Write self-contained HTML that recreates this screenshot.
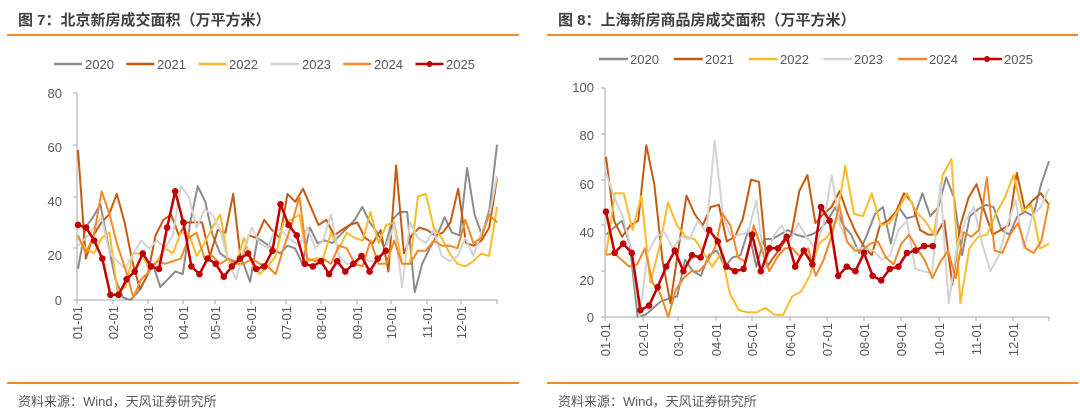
<!DOCTYPE html>
<html><head><meta charset="utf-8">
<style>
body{margin:0;background:#fff;width:1080px;height:414px;overflow:hidden;font-family:"Liberation Sans","Noto Sans CJK SC",sans-serif;}
svg text{font-family:"Liberation Sans","Noto Sans CJK SC",sans-serif;}
</style></head><body>
<svg id="s" width="1080" height="414" xmlns="http://www.w3.org/2000/svg">
<g font-weight="bold" font-size="15" fill="#404040">
<text x="18" y="25">图 7：北京新房成交面积（万平方米）</text>
<text x="558" y="25">图 8：上海新房商品房成交面积（万平方米）</text>
</g>
<line x1="7" y1="35" x2="519" y2="35" stroke="#f08a2c" stroke-width="2"/>
<line x1="547" y1="35" x2="1078" y2="35" stroke="#f08a2c" stroke-width="2"/>
<line x1="7" y1="383" x2="519" y2="383" stroke="#f08a2c" stroke-width="2"/>
<line x1="547" y1="383" x2="1078" y2="383" stroke="#f08a2c" stroke-width="2"/>
<g font-size="13" fill="#595959">
<text x="18" y="406">资料来源：Wind，天风证券研究所</text>
<text x="558" y="406">资料来源：Wind，天风证券研究所</text>
</g>
<g font-size="13" fill="#595959">
<text x="85" y="69">2020</text><text x="157" y="69">2021</text><text x="229" y="69">2022</text><text x="302" y="69">2023</text><text x="374" y="69">2024</text><text x="446" y="69">2025</text>
<text x="630" y="64">2020</text><text x="705" y="64">2021</text><text x="780" y="64">2022</text><text x="854" y="64">2023</text><text x="929" y="64">2024</text><text x="1004" y="64">2025</text>
</g>
<g font-size="13" fill="#595959" text-anchor="end">
<text x="62" y="98">80</text><text x="62" y="152">60</text><text x="62" y="206">40</text><text x="62" y="260">20</text><text x="62" y="305">0</text>
<text x="594" y="92">100</text><text x="594" y="140">80</text><text x="594" y="189">60</text><text x="594" y="237">40</text><text x="594" y="285">20</text><text x="594" y="322">0</text>
</g>
<g font-size="13" fill="#595959" text-anchor="end">
<text transform="translate(82,306) rotate(-90)">01-01</text>
<text transform="translate(118,306) rotate(-90)">02-01</text>
<text transform="translate(153,306) rotate(-90)">03-01</text>
<text transform="translate(188,306) rotate(-90)">04-01</text>
<text transform="translate(220,306) rotate(-90)">05-01</text>
<text transform="translate(256,306) rotate(-90)">06-01</text>
<text transform="translate(291,306) rotate(-90)">07-01</text>
<text transform="translate(326,306) rotate(-90)">08-01</text>
<text transform="translate(362,306) rotate(-90)">09-01</text>
<text transform="translate(396,306) rotate(-90)">10-01</text>
<text transform="translate(432,306) rotate(-90)">11-01</text>
<text transform="translate(466,306) rotate(-90)">12-01</text>
<text transform="translate(610,323) rotate(-90)">01-01</text>
<text transform="translate(648,323) rotate(-90)">02-01</text>
<text transform="translate(683,323) rotate(-90)">03-01</text>
<text transform="translate(721,323) rotate(-90)">04-01</text>
<text transform="translate(757,323) rotate(-90)">05-01</text>
<text transform="translate(795,323) rotate(-90)">06-01</text>
<text transform="translate(832,323) rotate(-90)">07-01</text>
<text transform="translate(869,323) rotate(-90)">08-01</text>
<text transform="translate(906,323) rotate(-90)">09-01</text>
<text transform="translate(944,323) rotate(-90)">10-01</text>
<text transform="translate(981,323) rotate(-90)">11-01</text>
<text transform="translate(1018,323) rotate(-90)">12-01</text>
</g>
</svg>
<script>
var s=document.getElementById('s'),NS='http://www.w3.org/2000/svg';
function el(t,a){var e=document.createElementNS(NS,t);for(var k in a)e.setAttribute(k,a[k]);s.appendChild(e);return e;}
var C={'2020':'#8c8c8c','2021':'#c55a11','2022':'#fbbc2c','2023':'#d3d3d3','2024':'#f28a2a','2025':'#c00000'};
// legends
var yrs=['2020','2021','2022','2023','2024','2025'];
yrs.forEach(function(y,i){
 var x=54+i*72.3;el('line',{x1:x,y1:64,x2:x+28,y2:64,stroke:C[y],'stroke-width':2.5});
 if(y=='2025')el('circle',{cx:x+14,cy:64,r:3,fill:C[y]});
 var x2=599+i*74.8;el('line',{x1:x2,y1:59,x2:x2+29,y2:59,stroke:C[y],'stroke-width':2.5});
 if(y=='2025')el('circle',{cx:x2+14,cy:59,r:3,fill:C[y]});
});
function axes(x0,x1,y0,yt,ticks,n,hy){
 el('line',{x1:x0,y1:yt,x2:x0,y2:y0,stroke:'#a6a6a6','stroke-width':1});
 el('line',{x1:x0,y1:y0,x2:x1,y2:y0,stroke:'#a6a6a6','stroke-width':1});
 hy.forEach(function(y){el('line',{x1:x0-4,y1:y,x2:x0,y2:y,stroke:'#a6a6a6'});});
 ticks.concat([x1]).forEach(function(x){el('line',{x1:x,y1:y0,x2:x,y2:y0+4,stroke:'#a6a6a6'});});
}
axes(77,497,300,93,[77,113,148,183,215,251,286,321,357,391,427,461],0,[93,145,197,248,300]);
axes(605,1049,317,88,[605,643,678,716,752,790,827,864,901,939,976,1013],0,[88,134,180,225,271,317]);
function series(d,x0,step,y0,sc,col,w,dots){
 var p=d.map(function(v,i){return (x0+i*step).toFixed(1)+','+(y0-v*sc).toFixed(1);}).join(' ');
 el('polyline',{points:p,fill:'none',stroke:col,'stroke-width':w,'stroke-linejoin':'round'});
 if(dots)d.forEach(function(v,i){el('circle',{cx:x0+i*step,cy:y0-v*sc,r:3.3,fill:col});});
}
var L={
'2020':[12,28,32,37,22,8,1,0,3,8,14,5,8,11,10,30,44,38,25,18,16,15,15,7,24,22,20,18,21,20,14,28,22,23,22,25,28,31,36,30,26,20,31,34,34,3,14,20,25,32,26,25,51,33,25,35,60],
'2021':[58,16,25,30,33,41,30,15,4,10,25,31,33,25,30,30,30,17,27,26,41,15,25,24,31,27,24,41,38,43,36,29,31,25,27,29,30,24,22,27,11,52,18,25,28,27,25,26,30,43,22,21,23,28,47],
'2022':[24,20,18,24,26,3,5,18,18,12,15,20,18,26,26,17,22,28,33,15,14,24,14,10,13,17,30,31,33,15,16,16,26,20,26,24,23,34,22,29,30,14,14,40,41,28,24,18,14,13,15,18,17,36],
'2023':[21,24,28,32,18,15,12,18,23,20,23,20,25,44,40,28,35,33,27,15,8,20,28,22,20,28,26,23,21,28,20,23,33,17,14,14,16,15,15,21,29,5,30,24,22,27,17,15,17,24,17,26,32,48],
'2024':[25,18,25,42,33,21,12,1,8,11,15,14,15,16,24,26,16,17,14,16,14,14,16,14,13,10,20,29,40,16,15,16,14,21,20,14,13,23,14,14,23,14,14,19,19,23,21,21,20,31,22,24,33,30],
'2025':[29,28,23,16,2,2,8,11,18,13,12,28,42,30,13,10,16,14,9,13,16,18,12,13,19,37,29,25,14,13,15,10,15,11,14,17,11,16,19]};
var R={
'2020':[36,39,42,32,0,1,4,7,8,9,25,20,18,27,29,22,26,27,38,22,34,34,36,38,36,35,36,38,42,48,40,36,28,36,45,48,32,48,43,44,54,44,48,61,52,27,44,47,49,48,38,36,44,46,44,58,68],
'2021':[70,42,35,40,42,75,58,25,6,30,53,45,40,48,49,33,35,43,60,59,22,27,32,36,55,62,41,45,48,55,45,37,31,27,40,42,46,54,50,38,36,36,42,14,40,52,58,46,36,38,40,63,47,51,54,49],
'2022':[27,54,54,38,53,15,30,50,40,35,34,28,22,28,10,3,2,2,4,1,1,9,11,18,32,35,42,66,45,44,54,40,41,47,54,46,42,36,62,69,6,30,35,36,45,52,62,46,49,30,32],
'2023':[63,52,44,30,0,28,35,37,30,35,34,42,37,77,44,35,36,37,51,21,35,40,33,41,35,30,40,62,40,32,30,30,29,25,27,38,42,21,20,19,58,6,31,42,48,32,20,27,40,51,30,44,48,56],
'2024':[27,28,25,22,23,30,15,10,0,12,17,20,20,24,30,45,40,26,24,40,30,20,26,30,30,26,30,18,25,35,49,33,29,29,32,33,26,23,32,36,30,25,17,24,29,17,37,35,38,61,29,28,36,41,30,28,33,50],
'2025':[46,28,32,28,3,5,13,22,29,20,27,26,38,33,22,20,21,36,20,30,30,35,22,29,23,48,42,18,22,20,28,18,16,21,22,28,29,31,31]};
yrs.forEach(function(y){
 var ld=L[y],rd=R[y];
 var ls=y=='2025'?8.1:(497-78)/(ld.length-1), rs=y=='2025'?8.6:(1049-606)/(rd.length-1);
 var w=y=='2025'?2.5:2;
 series(ld,78,ls,300,207/80,C[y],w,y=='2025');
 series(rd,606,rs,317,229/100,C[y],w,y=='2025');
});
</script>
</body></html>
